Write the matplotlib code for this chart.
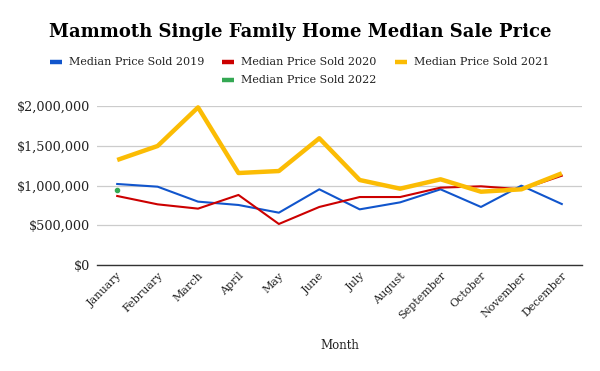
import matplotlib
matplotlib.use("Agg")
import matplotlib.pyplot as plt
import matplotlib.transforms as mtransforms
from matplotlib.lines import Line2D
from matplotlib.ticker import FuncFormatter

months = ["January", "February", "March", "April", "May", "June", "July",
          "August", "September", "October", "November", "December"]
sold_2019 = [1019000, 985000, 797000, 755000, 658000, 952000, 700000,
             788000, 952000, 730000, 998000, 767000]
sold_2020 = [868000, 763000, 709000, 881000, 516000, 730000, 855000,
             855000, 973000, 990000, 952000, 1123000]
sold_2021 = [1321000, 1497000, 1983000, 1157000, 1182000, 1594000, 1069000,
             960000, 1078000, 922000, 952000, 1153000]
sold_2022 = [947000]
labels = ["Median Price Sold 2019", "Median Price Sold 2020",
          "Median Price Sold 2021", "Median Price Sold 2022"]
yticks = [0, 500000, 1000000, 1500000, 2000000]

colors = ["#1155cc", "#cc0000", "#fbbc04", "#34a853"]
FONT = "DejaVu Serif"

fig = plt.figure(figsize=(6, 3.71), dpi=100)
W, H = 600, 371
ax = fig.add_axes([97 / W, 1 - 265 / H, (582 - 97) / W, (265 - 106) / H])

x = list(range(len(months)))
ax.plot(x, sold_2019, color=colors[0], lw=1.5, clip_on=False, zorder=3)
ax.plot(x, sold_2020, color=colors[1], lw=1.5, clip_on=False, zorder=3)
ax.plot(x, sold_2021, color=colors[2], lw=3.2, clip_on=False, zorder=4,
        solid_capstyle="butt")
ax.plot(x[:len(sold_2022)], sold_2022, color=colors[3], marker="o", ms=3,
        lw=0, clip_on=False, zorder=5)

ax.set_xlim(-0.5, 11.5)
ax.set_ylim(0, 2000000)
ax.set_yticks(yticks)
ax.yaxis.set_major_formatter(FuncFormatter(lambda v, p: "${:,.0f}".format(v)))
ax.set_xticks(x)
ax.set_xticklabels(months, rotation=45, ha="right", rotation_mode="anchor",
                   fontsize=8, family=FONT, color="#222222")
offset = mtransforms.ScaledTranslation(4 / 100, 0, fig.dpi_scale_trans)
for lab in ax.get_xticklabels():
    lab.set_transform(lab.get_transform() + offset)
for lab in ax.get_yticklabels():
    lab.set_family(FONT)
    lab.set_fontsize(9.2)
    lab.set_color("#222222")
ax.tick_params(axis="both", length=0)
ax.tick_params(axis="y", pad=5)
ax.tick_params(axis="x", pad=4)
ax.grid(axis="y", color="#cccccc", lw=0.9)
ax.set_axisbelow(True)
for s in ["top", "right", "left"]:
    ax.spines[s].set_visible(False)
ax.spines["bottom"].set_color("#333333")
ax.spines["bottom"].set_linewidth(1.0)
ax.spines["bottom"].set_zorder(2)
ax.set_xlabel("Month", family=FONT, fontsize=8.5, color="#222222", labelpad=13)

fig.text(0.5, 1 - 32 / H, "Mammoth Single Family Home Median Sale Price",
         ha="center", va="center", family=FONT, fontweight="bold",
         fontsize=13, color="#000000")

# legend
leg_pos = [(50, 62), (222, 62), (395, 62), (222, 80)]
for (lx, ly), lab, c in zip(leg_pos, labels, colors):
    fig.add_artist(Line2D([lx / W, (lx + 12) / W], [1 - ly / H, 1 - ly / H],
                          color=c, lw=3.2, solid_capstyle="butt"))
    fig.text((lx + 19) / W, 1 - ly / H, lab, ha="left", va="center",
             family=FONT, fontsize=8, color="#222222")

fig.savefig("out.png", dpi=100)
